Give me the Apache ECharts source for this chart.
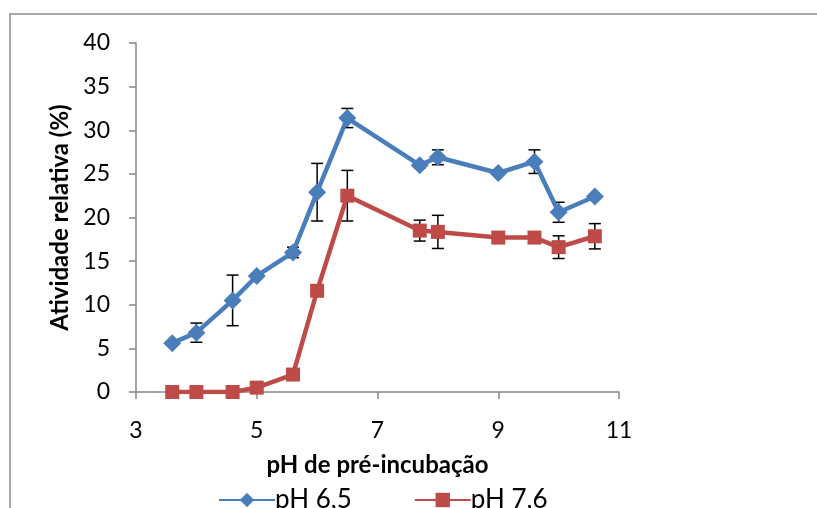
<!DOCTYPE html>
<html>
<head>
<meta charset="utf-8">
<script src="https://cdn.jsdelivr.net/npm/echarts@6/dist/echarts.min.js"></script>
<style>
html,body{margin:0;padding:0;background:#fff;}
#chart{width:817px;height:508px;}
</style>
</head>
<body>
<div id="chart"></div>
<script>
// Data
var phValues = [3.6, 4.0, 4.6, 5.0, 5.6, 6.0, 6.5, 7.7, 8.0, 9.0, 9.6, 10.0, 10.6];
var series65 = [5.6, 6.8, 10.5, 13.3, 16.0, 22.9, 31.4, 26.0, 26.9, 25.1, 26.4, 20.6, 22.4];
var error65  = [0, 1.1, 2.9, 0, 0.6, 3.3, 1.1, 0.3, 0.85, 0, 1.35, 1.15, 0];
var series76 = [0, 0, 0, 0.5, 2.0, 11.6, 22.5, 18.5, 18.35, 17.7, 17.7, 16.6, 17.85];
var error76  = [0, 0, 0, 0, 0, 0, 2.9, 1.2, 1.9, 0, 0, 1.3, 1.45];
var seriesNames = ['pH 6,5', 'pH 7,6'];
var xTitle = 'pH de pré-incubação';
var yTitle = 'Atividade relativa (%)';

var FONT = 'Lato';
function pairs(xs, ys) { return xs.map(function (x, i) { return [x, ys[i]]; }); }
function errData(xs, ys, es) {
  var out = [];
  xs.forEach(function (x, i) { if (es[i] > 0) out.push([x, ys[i] - es[i], ys[i] + es[i]]); });
  return out;
}
function errRender(params, api) {
  var x = api.value(0);
  var lo = api.coord([x, api.value(1)]);
  var hi = api.coord([x, api.value(2)]);
  var cap = 6;
  var st = { stroke: '#000', lineWidth: 1.5 };
  return {
    type: 'group',
    children: [
      { type: 'line', shape: { x1: lo[0], y1: lo[1], x2: hi[0], y2: hi[1] }, style: st },
      { type: 'line', shape: { x1: lo[0] - cap, y1: lo[1], x2: lo[0] + cap, y2: lo[1] }, style: st },
      { type: 'line', shape: { x1: hi[0] - cap, y1: hi[1], x2: hi[0] + cap, y2: hi[1] }, style: st }
    ]
  };
}

var chart = echarts.init(document.getElementById('chart'), null, { renderer: 'canvas' });
var axisColor = '#868686';
chart.setOption({
  animation: false,
  backgroundColor: '#fff',
  textStyle: { fontFamily: FONT },
  graphic: [{
    type: 'rect', silent: true, z: -10,
    shape: { x: 10, y: 14, width: 900, height: 600 },
    style: { fill: 'none', stroke: '#8a8a8a', lineWidth: 1.5 }
  }],
  grid: { left: 136, right: 198, top: 43, bottom: 116 },
  xAxis: {
    type: 'value', min: 3, max: 11, interval: 2,
    name: xTitle, nameLocation: 'middle', nameGap: 61,
    nameTextStyle: { fontFamily: FONT, fontSize: 24, fontWeight: 'bold', color: '#000' },
    axisLine: { lineStyle: { color: axisColor, width: 1.5 } },
    axisTick: { show: true, inside: false, length: 7, lineStyle: { color: axisColor, width: 1.5 } },
    axisLabel: { fontFamily: FONT, fontSize: 23, color: '#000', margin: 27 },
    splitLine: { show: false }
  },
  yAxis: {
    type: 'value', min: 0, max: 40, interval: 5,
    name: yTitle, nameLocation: 'middle', nameGap: 62, nameRotate: 90,
    nameTextStyle: { fontFamily: FONT, fontSize: 24, fontWeight: 'bold', color: '#000' },
    axisLine: { show: true, lineStyle: { color: axisColor, width: 1.5 } },
    axisTick: { show: true, inside: false, length: 7, lineStyle: { color: axisColor, width: 1.5 } },
    axisLabel: { fontFamily: FONT, fontSize: 23, color: '#000', margin: 26 },
    splitLine: { show: false }
  },
  legend: {
    top: 486, left: 218, padding: 0,
    itemWidth: 56, itemHeight: 18, itemGap: 62,
    textStyle: { fontFamily: FONT, fontSize: 26, color: '#000', lineHeight: 28, padding: [0, 0, 0, -5] },
    data: [
      { name: seriesNames[0] },
      { name: seriesNames[1] }
    ]
  },
  series: [
    {
      name: 'err65', type: 'custom', renderItem: errRender, z: 1,
      data: errData(phValues, series65, error65), encode: { x: 0, y: [1, 2] }, silent: true
    },
    {
      name: 'err76', type: 'custom', renderItem: errRender, z: 1,
      data: errData(phValues, series76, error76), encode: { x: 0, y: [1, 2] }, silent: true
    },
    {
      name: seriesNames[0], type: 'line', z: 3,
      data: pairs(phValues, series65),
      symbol: 'diamond', symbolSize: 18, showAllSymbol: true,
      itemStyle: { color: '#4A7EBB' },
      lineStyle: { color: '#4A7EBB', width: 4.5 }
    },
    {
      name: seriesNames[1], type: 'line', z: 2,
      data: pairs(phValues, series76),
      symbol: 'rect', symbolSize: 14, showAllSymbol: true,
      itemStyle: { color: '#BE4B48' },
      lineStyle: { color: '#BE4B48', width: 4.5 }
    }
  ]
});
</script>
</body>
</html>
